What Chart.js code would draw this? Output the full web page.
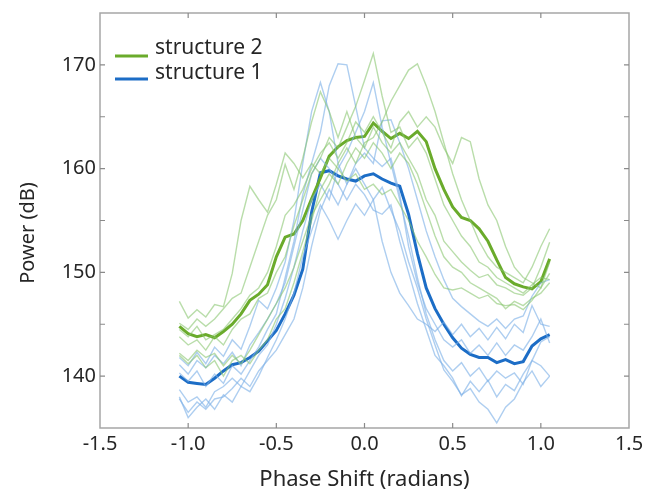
<!DOCTYPE html>
<html>
<head>
<meta charset="utf-8">
<script src="https://cdn.jsdelivr.net/npm/chart.js@4.4.1/dist/chart.umd.min.js"></script>
<style>
  html, body { margin: 0; padding: 0; background: #ffffff; }
  #wrap { width: 652px; height: 493px; position: relative; }
</style>
</head>
<body>
<div id="wrap"><canvas id="c" width="652" height="493"></canvas></div>
<script>
// Phase shift samples (radians)
const phase = [-1.05,-1.0,-0.95,-0.9,-0.85,-0.8,-0.75,-0.7,-0.65,-0.6,-0.55,-0.5,-0.45,-0.4,-0.35,-0.3,-0.25,-0.2,-0.15,-0.1,-0.05,0.0,0.05,0.1,0.15,0.2,0.25,0.3,0.35,0.4,0.45,0.5,0.55,0.6,0.65,0.7,0.75,0.8,0.85,0.9,0.95,1.0,1.05];

// Mean curves
const structure2 = [144.8,144.1,143.8,144.0,143.7,144.3,145.0,146.0,147.3,147.9,148.8,151.5,153.4,153.7,155.0,157.1,159.1,161.2,162.1,162.7,163.0,163.1,164.4,163.6,162.9,163.4,162.9,163.6,162.6,160.0,158.0,156.3,155.3,155.0,154.2,153.0,151.2,149.5,148.9,148.6,148.4,149.1,151.3];
const structure1 = [140.0,139.4,139.3,139.2,139.8,140.5,141.1,141.3,141.8,142.4,143.4,144.4,146.0,147.8,150.3,155.8,159.6,159.8,159.3,159.0,158.8,159.3,159.5,159.0,158.6,158.3,155.6,151.8,148.5,146.5,145.0,143.7,142.7,142.1,141.8,141.8,141.3,141.6,141.2,141.4,142.9,143.6,144.0];

// Individual traces, structure 2
const s2trace1 = [147.2,145.6,146.4,145.7,146.9,146.7,149.9,155.0,158.3,157.0,155.8,158.5,161.5,160.5,159.1,160.5,159.5,161.0,160.0,158.8,159.5,158.0,158.5,157.5,158.0,156.5,155.0,153.0,151.5,149.8,148.5,148.3,148.5,148.0,147.5,147.8,147.0,146.8,146.9,146.4,147.3,148.5,149.9];
const s2trace2 = [145.1,144.5,145.5,144.8,145.5,146.5,147.5,148.0,150.5,153.0,155.5,157.0,160.4,158.0,161.0,164.5,167.4,165.5,163.0,165.5,163.0,162.0,164.0,162.5,161.5,162.5,161.0,159.5,157.0,155.5,153.0,152.0,151.0,150.2,149.5,149.8,148.8,148.5,148.0,147.8,148.5,150.5,152.9];
const s2trace3 = [143.8,143.0,143.5,142.5,143.8,143.0,144.5,145.5,146.0,147.5,148.0,150.0,151.5,154.5,157.0,159.5,161.0,163.0,162.0,164.0,166.0,168.5,171.1,167.0,163.5,164.0,162.0,163.0,161.5,159.0,156.5,155.0,153.5,152.5,151.0,150.5,149.5,149.0,148.5,148.0,148.8,149.5,149.3];
const s2trace4 = [142.2,141.5,142.5,141.8,142.2,141.0,142.0,141.2,142.5,144.0,145.5,147.0,148.5,150.5,153.0,155.5,157.0,158.5,160.5,162.0,160.5,162.5,163.0,164.5,166.5,168.0,169.5,170.1,168.0,165.5,162.5,159.5,157.0,155.0,153.0,151.5,150.5,150.0,149.5,149.0,150.5,152.5,154.2];
const s2trace5 = [144.5,143.8,144.8,143.5,144.0,144.5,145.5,146.5,147.8,148.5,150.0,152.5,155.5,156.5,158.0,160.0,161.5,162.5,161.0,162.5,164.5,163.5,165.0,163.5,162.0,164.5,165.5,164.0,165.0,164.0,162.0,160.5,163.0,162.6,159.0,156.5,155.0,152.5,150.5,149.5,149.0,148.5,151.0];
const s2trace6 = [142.0,141.2,142.0,140.8,141.5,140.0,141.5,142.0,141.2,142.5,143.5,145.5,146.5,149.0,152.0,155.0,158.0,159.5,158.5,160.5,162.0,161.0,162.5,161.5,160.0,161.5,160.5,158.5,156.0,153.5,151.5,150.5,150.0,149.0,148.5,148.0,147.5,146.5,147.2,146.8,147.5,148.0,149.0];

// Individual traces, structure 1
const s1trace1 = [141.8,141.0,142.3,141.2,142.8,141.9,143.5,142.6,144.8,147.3,146.5,148.5,151.0,155.0,160.5,165.5,168.3,165.5,160.5,158.5,160.0,158.5,157.0,153.0,150.0,148.0,146.8,145.5,145.0,144.3,145.2,144.0,145.0,143.8,144.6,143.5,144.7,143.6,145.0,144.2,146.8,145.0,144.8];
const s1trace2 = [140.3,139.5,140.5,139.0,140.2,139.3,141.0,140.2,141.5,142.8,144.5,146.0,149.5,153.0,157.5,160.5,163.5,168.0,170.1,170.0,166.0,162.0,161.0,160.2,161.0,157.5,152.5,149.0,146.5,145.0,143.5,142.8,143.5,142.2,143.0,142.0,143.2,142.0,143.0,142.5,143.8,145.5,143.2];
const s1trace3 = [138.7,137.5,138.0,137.0,138.5,139.0,139.8,139.0,140.5,142.0,143.0,145.0,147.5,150.5,154.0,157.0,158.5,157.0,160.0,161.5,163.5,165.5,168.3,164.0,160.5,157.0,153.5,149.5,146.0,143.5,141.5,140.5,141.3,140.0,140.8,139.5,140.5,139.8,140.3,139.2,141.5,141.0,140.0];
const s1trace4 = [137.8,136.5,137.5,136.8,137.8,138.0,138.8,139.8,139.0,140.5,141.5,142.5,144.0,145.5,148.5,152.5,156.0,158.0,156.5,158.5,160.5,161.5,160.5,164.6,164.7,162.5,160.0,157.0,154.0,151.5,149.3,147.5,146.7,146.0,145.3,144.8,145.5,144.6,145.5,145.8,147.7,149.0,149.3];
const s1trace5 = [138.0,136.0,137.0,137.8,136.8,138.2,137.5,139.0,138.5,140.0,141.8,143.5,145.5,148.0,151.5,154.0,156.5,155.0,153.2,155.0,156.6,155.5,157.0,158.2,156.0,154.0,151.0,148.5,145.5,143.0,140.6,139.5,138.2,138.8,137.5,136.8,135.5,137.0,137.8,139.4,140.5,139.0,140.0];
const s1trace6 = [141.1,140.2,141.5,140.8,142.0,141.2,142.3,141.0,143.0,144.2,145.5,147.0,149.0,152.5,156.0,159.5,161.0,160.0,158.5,157.0,158.5,157.5,156.0,155.6,156.5,153.0,150.0,147.0,144.5,142.0,141.0,139.8,138.1,139.5,138.5,139.6,138.0,139.2,138.6,140.2,141.5,143.3,143.8];

// Axis tick labels
const xTickValues = [-1.5,-1.0,-0.5,0.0,0.5,1.0,1.5];
const yTickValues = [140,150,160,170];
const yMinorTickValues = [135,140,145,150,155,160,165,170,175];

const legendLabels = ['structure 2','structure 1'];
const yTitle = 'Power (dB)';
const xTitle = 'Phase Shift (radians)';

const GREEN = '#6aab2b';
const BLUE = '#1c6dc6';
const GREEN_LIGHT = 'rgba(135,196,108,0.58)';
const BLUE_LIGHT = 'rgba(125,176,230,0.62)';
const TEXT = '#262626';
const FONT = "'Noto Sans', 'DejaVu Sans', sans-serif";

function pts(arr) { return phase.map((x, i) => ({ x: x, y: arr[i] })); }

const thinS2 = [s2trace1, s2trace2, s2trace3, s2trace4, s2trace5, s2trace6];
const thinS1 = [s1trace1, s1trace2, s1trace3, s1trace4, s1trace5, s1trace6];

const datasets = [];
thinS2.forEach(t => datasets.push({ data: pts(t), borderColor: GREEN_LIGHT, borderWidth: 1.4, pointRadius: 0, tension: 0, fill: false }));
thinS1.forEach(t => datasets.push({ data: pts(t), borderColor: BLUE_LIGHT, borderWidth: 1.4, pointRadius: 0, tension: 0, fill: false }));
datasets.push({ label: legendLabels[0], data: pts(structure2), borderColor: GREEN, borderWidth: 3, pointRadius: 0, tension: 0, fill: false });
datasets.push({ label: legendLabels[1], data: pts(structure1), borderColor: BLUE, borderWidth: 3, pointRadius: 0, tension: 0, fill: false });

const frame = {
  id: 'frame',
  afterDraw(chart) {
    const ctx = chart.ctx;
    const a = chart.chartArea;
    const xs = chart.scales.x, ys = chart.scales.y;
    ctx.save();
    ctx.strokeStyle = '#a6a6a6';
    ctx.lineWidth = 1.5;
    ctx.strokeRect(a.left, a.top, a.right - a.left, a.bottom - a.top);
    ctx.lineWidth = 1.2;
    ctx.strokeStyle = '#8a8a8a';
    const L = 5;
    ctx.beginPath();
    xTickValues.forEach(v => {
      const px = xs.getPixelForValue(v);
      if (px <= a.left + 1 || px >= a.right - 1) return;
      ctx.moveTo(px, a.bottom); ctx.lineTo(px, a.bottom - L);
      ctx.moveTo(px, a.top); ctx.lineTo(px, a.top + L);
    });
    yMinorTickValues.forEach(v => {
      const py = ys.getPixelForValue(v);
      if (py <= a.top + 1 || py >= a.bottom - 1) return;
      ctx.moveTo(a.left, py); ctx.lineTo(a.left + L, py);
      ctx.moveTo(a.right, py); ctx.lineTo(a.right - L, py);
    });
    ctx.stroke();

    // y axis title
    ctx.save();
    ctx.translate(28, 233);
    ctx.rotate(-Math.PI / 2);
    ctx.font = "20px " + FONT;
    ctx.fillStyle = TEXT;
    ctx.textAlign = 'center';
    ctx.textBaseline = 'middle';
    ctx.fillText(yTitle, 0, 0);
    ctx.restore();

    // legend
    const items = [
      { label: legendLabels[0], color: GREEN, ly: 56, ty: 48 },
      { label: legendLabels[1], color: BLUE, ly: 79, ty: 73 }
    ];
    ctx.font = "21px " + FONT;
    ctx.textBaseline = 'middle';
    ctx.textAlign = 'left';
    items.forEach(it => {
      ctx.strokeStyle = it.color;
      ctx.lineWidth = 3;
      ctx.beginPath();
      ctx.moveTo(115, it.ly); ctx.lineTo(148, it.ly);
      ctx.stroke();
      ctx.fillStyle = TEXT;
      ctx.fillText(it.label, 155, it.ty);
    });
    ctx.restore();
  }
};

new Chart(document.getElementById('c'), {
  type: 'line',
  data: { datasets: datasets },
  options: {
    responsive: false,
    animation: false,
    devicePixelRatio: 1,
    layout: { padding: { left: 0, right: 23, top: 13, bottom: 0 } },
    plugins: { legend: { display: false }, tooltip: { enabled: false } },
    scales: {
      x: {
        type: 'linear',
        min: -1.5, max: 1.5,
        afterBuildTicks: s => { s.ticks = xTickValues.map(v => ({ value: v })); },
        afterFit: s => { s.height = 65; s.paddingLeft = 0; s.paddingRight = 0; },
        grid: { display: false, drawTicks: false },
        border: { display: false },
        ticks: {
          color: TEXT, padding: 4,
          font: { family: FONT, size: 20 },
          callback: v => Number(v).toFixed(1)
        },
        title: { display: true, text: xTitle, color: TEXT, font: { family: FONT, size: 22 }, padding: { top: 0, bottom: 0 } }
      },
      y: {
        type: 'linear',
        min: 135, max: 175,
        afterBuildTicks: s => { s.ticks = yTickValues.map(v => ({ value: v })); },
        afterFit: s => { s.width = 100; s.paddingTop = 0; s.paddingBottom = 0; },
        grid: { display: false, drawTicks: false },
        border: { display: false },
        ticks: {
          color: TEXT, padding: 4,
          font: { family: FONT, size: 20 },
          callback: v => String(v)
        }
      }
    }
  },
  plugins: [frame]
});
</script>
</body>
</html>
